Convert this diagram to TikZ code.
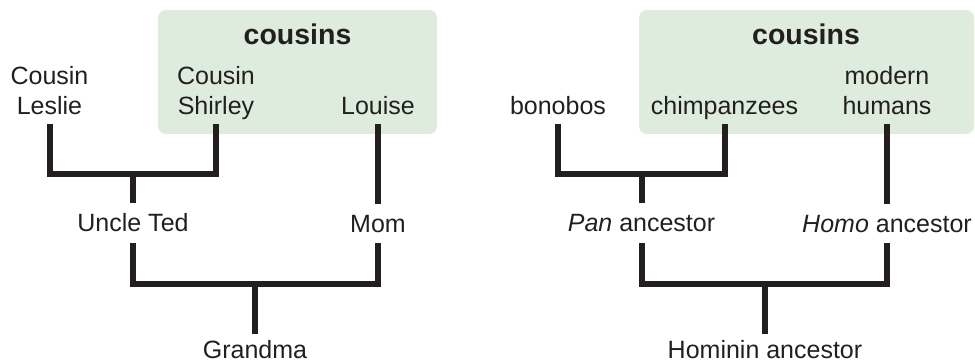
\documentclass[tikz,border=0pt]{standalone}
\usepackage{fontspec}
\setmainfont{Liberation Sans}
\definecolor{boxgreen}{RGB}{221,236,221}
\definecolor{linecol}{RGB}{35,31,32}
\definecolor{txtcol}{RGB}{35,31,32}
\begin{document}
\begin{tikzpicture}[x=1pt,y=-1pt,
  lab/.style={font=\fontsize{25}{30}\selectfont, text=txtcol, inner sep=0pt, anchor=base, align=center},
  head/.style={font=\fontsize{28.5}{34}\selectfont\bfseries, text=txtcol, inner sep=0pt, anchor=base},
  link/.style={draw=linecol, line width=6pt, line join=miter, line cap=butt},
  cbox/.style={fill=boxgreen, rounded corners=8pt}]
\useasboundingbox (0,0) rectangle (975,363);
% ---------- left panel ----------
\fill[cbox] (158,10) rectangle (437,134);
\node[head] (cousA) at (297.5,45) {cousins};
\node[lab] (leslie) at (49.5,115) {Cousin\\Leslie};
\node[lab] (shirley) at (216,115) {Cousin\\Shirley};
\node[lab] (louise) at (378,115) {Louise};
\node[lab] (ted) at (133,232) {Uncle Ted};
\node[lab] (mom) at (378,233) {Mom};
\node[lab] (grandma) at (255,359) {Grandma};
\coordinate (lesT) at (49.5,124);
\coordinate (shiT) at (216,124);
\coordinate (louT) at (378,124);
\coordinate (j1) at (133,174.5);
\coordinate (tedT) at (133,203);
\coordinate (tedB) at (133,243);
\coordinate (momT) at (378,204);
\coordinate (momB) at (378,243);
\coordinate (j2) at (255,284.5);
\coordinate (graT) at (255,334);
\draw[link] (lesT) -- (lesT |- j1) -- (shiT |- j1) -- (shiT);
\draw[link] (j1) -- (tedT);
\draw[link] (louT) -- (momT);
\draw[link] (tedB) -- (tedB |- j2) -- (momB |- j2) -- (momB);
\draw[link] (j2) -- (graT);
% ---------- right panel ----------
\fill[cbox] (639,10) rectangle (974,134);
\node[head] (cousB) at (806,45) {cousins};
\node[lab] (bonobos) at (558,115) {bonobos};
\node[lab] (chimp) at (724.5,115) {chimpanzees};
\node[lab] (humans) at (887,115) {modern\\humans};
\node[lab] (pan) at (641.5,232) {\itshape Pan\upshape{} ancestor};
\node[lab] (homo) at (887,233) {\itshape Homo\upshape{} ancestor};
\node[lab] (hominin) at (765,359) {Hominin ancestor};
\coordinate (bonT) at (558,124);
\coordinate (chiT) at (725,124);
\coordinate (humT) at (887,124);
\coordinate (j3) at (641.5,174.5);
\coordinate (panT) at (641.5,203);
\coordinate (panB) at (641.5,243);
\coordinate (homT) at (887,204);
\coordinate (homB) at (887,243);
\coordinate (j4) at (764.5,284.5);
\coordinate (hnT) at (764.5,334);
\draw[link] (bonT) -- (bonT |- j3) -- (chiT |- j3) -- (chiT);
\draw[link] (j3) -- (panT);
\draw[link] (humT) -- (homT);
\draw[link] (panB) -- (panB |- j4) -- (homB |- j4) -- (homB);
\draw[link] (j4) -- (hnT);
\end{tikzpicture}
\end{document}
